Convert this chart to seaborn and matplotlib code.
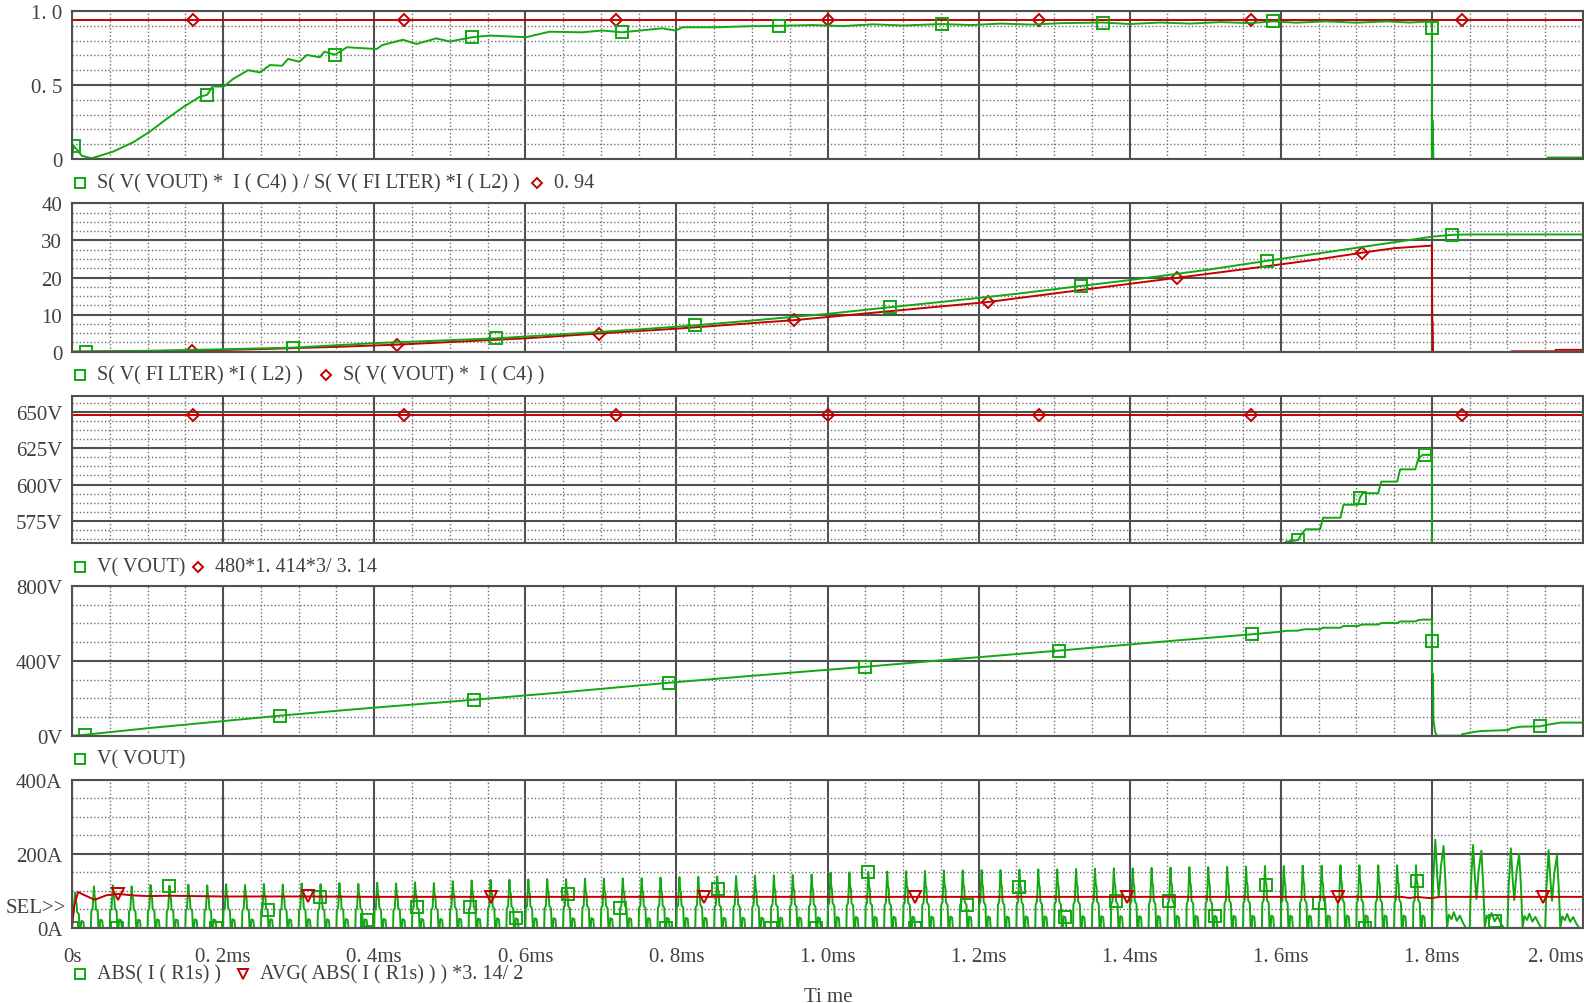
import numpy as np
import matplotlib
matplotlib.use("Agg")
import matplotlib.pyplot as plt
from matplotlib.lines import Line2D
from matplotlib.ticker import MultipleLocator, FixedLocator
import seaborn as sns

# ------------------------------
# Data (time in ms)
# ------------------------------
# panel 1: S(V(VOUT)*I(C4))/S(V(FILTER)*I(L2))
EFF_T = [0.000, 0.002, 0.013, 0.026, 0.037, 0.054, 0.081, 0.103, 0.125, 0.147,
         0.169, 0.179, 0.186, 0.201, 0.213, 0.233, 0.249, 0.262, 0.278, 0.286,
         0.301, 0.311, 0.328, 0.334, 0.348, 0.364, 0.403, 0.411, 0.438, 0.456,
         0.482, 0.500, 0.530, 0.553, 0.601, 0.632, 0.675, 0.702, 0.728, 0.781,
         0.799, 0.808, 0.853, 0.896, 0.936, 0.98, 1.02, 1.06, 1.10, 1.151,
         1.19, 1.23, 1.27, 1.31, 1.365, 1.40, 1.44, 1.48, 1.52, 1.56,
         1.590, 1.62, 1.66, 1.70, 1.74, 1.77, 1.799, 1.800, 1.800, 1.8005,
         1.801, 1.802, 1.803, 1.900, 1.901, 1.952, 1.953, 2.000]
EFF_V = [0.0, 0.091, 0.022, 0.005, 0.022, 0.049, 0.113, 0.185, 0.27, 0.35,
         0.42, 0.434, 0.49, 0.49, 0.54, 0.60, 0.585, 0.635, 0.63, 0.676,
         0.657, 0.703, 0.687, 0.725, 0.705, 0.755, 0.743, 0.77, 0.806, 0.777,
         0.815, 0.794, 0.823, 0.834, 0.823, 0.86, 0.856, 0.868, 0.856, 0.883,
         0.868, 0.89, 0.89, 0.897, 0.90, 0.905, 0.898, 0.91, 0.902, 0.912,
         0.905, 0.915, 0.908, 0.918, 0.922, 0.912, 0.922, 0.915, 0.925, 0.918,
         0.93, 0.921, 0.93, 0.921, 0.93, 0.922, 0.93, 0.883, 0.0, 0.26,
         0.26, 0.0, -0.2, -0.2, 0.0, 0.0, 0.01, 0.01]
EFF_MARKS = [1, 11, 24, 32, 38, 44, 49, 54, 60, 67]

REF_T = [0.0, 0.16, 0.44, 0.72, 1.00, 1.28, 1.56, 1.84, 2.0]
EFF_REF = [0.94, 0.94, 0.94, 0.94, 0.94, 0.94, 0.94, 0.94, 0.94]
REF_MARKS = [1, 2, 3, 4, 5, 6, 7]

# panel 2: S(V(FILTER)*I(L2)) and S(V(VOUT)*I(C4))
PIN_T = [0.0, 0.018, 0.1, 0.2, 0.293, 0.4, 0.5, 0.561, 0.65, 0.75, 0.825, 0.9,
         1.0, 1.083, 1.15, 1.25, 1.335, 1.4, 1.5, 1.582, 1.65, 1.7, 1.75, 1.8,
         1.827, 1.85, 2.0]
PIN_V = [0.0, 0.03, 0.25, 0.65, 1.1, 2.3, 3.1, 3.6, 4.7, 6.0, 7.1, 8.4,
         10.2, 12.0, 13.4, 15.6, 17.7, 19.3, 22.0, 24.5, 26.5, 28.0, 29.5, 31.0,
         31.5, 31.6, 31.6]
PIN_MARKS = [1, 4, 7, 10, 13, 16, 19, 24]

POUT_T = [0.0, 0.1, 0.159, 0.25, 0.35, 0.43, 0.5, 0.6, 0.697, 0.8, 0.9, 0.956,
          1.05, 1.15, 1.213, 1.3, 1.4, 1.462, 1.55, 1.65, 1.708, 1.75, 1.8,
          1.8005, 1.801, 1.8015, 1.904, 1.905, 1.963, 1.964, 2.0]
POUT_V = [0.0, 0.15, 0.3, 0.7, 1.3, 1.9, 2.6, 3.6, 4.9, 6.2, 7.7, 8.5,
          10.3, 12.2, 13.4, 15.7, 18.3, 19.9, 22.2, 24.9, 26.7, 27.9, 28.6,
          8.0, 8.0, -1.0, -1.0, 0.1, 0.1, 0.5, 0.5]
POUT_MARKS = [2, 5, 8, 11, 14, 17, 20]

# panels 3 and 4: V(VOUT)
VOUT_T = [0.0, 0.017, 0.1, 0.2, 0.275, 0.4, 0.532, 0.65, 0.79, 0.9, 1.049, 1.15,
          1.307, 1.45, 1.562, 1.600, 1.607, 1.623, 1.627, 1.633, 1.652, 1.656,
          1.679, 1.683, 1.702, 1.705, 1.708, 1.729, 1.733, 1.754, 1.758, 1.778,
          1.782, 1.788, 1.791, 1.800, 1.800, 1.800, 1.8015, 1.802, 1.804, 1.806,
          1.839, 1.840, 1.856, 1.865, 1.901, 1.905, 1.917, 1.943, 1.951, 1.970, 2.000]
VOUT_V = [0, 5, 40, 78, 107, 150, 192, 232, 283, 320, 368, 403,
          455, 505, 542, 556, 560.5, 561.5, 565.5, 569, 569, 577,
          577, 586, 586, 591, 594, 594, 602, 602, 610.5, 610.5,
          618, 620.5, 620.5, 620.5, 505, 330, 330, 88, 25, 0,
          0, 8, 20, 25, 30, 40, 48, 50, 57, 70, 70]
VOUT_MARKS_ZOOM = [17, 25, 34]
VOUT_MARKS = [1, 4, 6, 8, 10, 12, 14, 36, 49]

EXPR_V = [648.4, 648.4, 648.4, 648.4, 648.4, 648.4, 648.4, 648.4, 648.4]

# panel 5: ABS(I(R1s)) - one pulse shape per 25 us switching period up to 1.8 ms
PERIOD = 0.025
PULSE_PHASE = [0.00, 0.02, 0.09, 0.12, 0.16, 0.20, 0.24, 0.27, 0.36, 0.40,
               0.46, 0.50, 0.60, 0.64]
PULSE_SHAPE = [0.00, 0.40, 0.45, 0.70, 1.00, 0.75, 0.70, 0.45, 0.40, 0.00,
               0.00, 0.20, 0.18, 0.00]
PEAKS = [95, 112, 115, 112, 116, 114, 117, 115, 118, 116,
         119, 117, 120, 118, 121, 119, 122, 120, 123, 121,
         126, 128, 130, 130, 131, 132, 132, 133, 133, 134,
         134, 136, 137, 138, 139, 140, 141, 142, 143, 144,
         149, 150, 151, 152, 153, 154, 155, 155, 156, 156,
         157, 158, 158, 159, 160, 161, 161, 162, 163, 164,
         164, 165, 166, 167, 167, 168, 168, 169, 169, 169, 169, 169]
# after 1.8 ms: double pulse every 50 us
POST_PERIOD = 0.05
POST_PHASE = [0.00, 0.03, 0.09, 0.14, 0.18, 0.24, 0.31, 0.36, 0.40, 0.45,
              0.52, 0.58, 0.66, 0.74, 0.82, 0.90]
POST_SHAPE = [0.00, 0.50, 1.00, 0.60, 0.35, 0.70, 0.93, 0.50, 0.00, 0.15,
              0.10, 0.18, 0.08, 0.14, 0.06, 0.00]
POST_PEAKS = [238, 224, 215, 210]

AVG_T = [0.0, 0.003, 0.008, 0.015, 0.03, 0.045, 0.061, 0.08, 0.1, 0.13, 0.2,
         0.312, 0.4, 0.555, 0.7, 0.837, 1.0, 1.116, 1.3, 1.396, 1.55, 1.676,
         1.76, 1.77, 1.78, 1.795, 1.80, 1.81, 1.9, 1.947, 2.0]
AVG_V = [0, 60, 97, 90, 76, 88, 92, 88, 86, 87, 85,
         85, 84, 84, 84, 84, 84, 84, 84, 84, 84, 84,
         84, 81, 84, 81, 81, 84, 84, 84, 84]
AVG_MARKS = [6, 11, 13, 15, 17, 19, 21, 29]

X_TICKS = [0.0, 0.2, 0.4, 0.6, 0.8, 1.0, 1.2, 1.4, 1.6, 1.8, 2.0]
X_LABELS = ["0s", "0. 2ms", "0. 4ms", "0. 6ms", "0. 8ms", "1. 0ms",
            "1. 2ms", "1. 4ms", "1. 6ms", "1. 8ms", "2. 0ms"]

# build the current waveform from the pulse shapes
cur_t, cur_v = [], []
for k, pk in enumerate(PEAKS):
    for ph, sh in zip(PULSE_PHASE, PULSE_SHAPE):
        cur_t.append((k + ph) * PERIOD)
        cur_v.append(pk * sh)
t0 = len(PEAKS) * PERIOD
for k, pk in enumerate(POST_PEAKS):
    for ph, sh in zip(POST_PHASE, POST_SHAPE):
        cur_t.append(t0 + (k + ph) * POST_PERIOD)
        cur_v.append(pk * sh)
cur_t.append(2.0)
cur_v.append(0.0)

# ------------------------------
# Style
# ------------------------------
sns.set_style("white")
plt.rcParams["font.family"] = ["Liberation Serif", "DejaVu Serif"]

GREEN = "#12a812"
RED = "#c40000"
AXC = "#505050"
TXT = "#404040"
FS = 15
LFS = 14.5

W, H = 1584, 1004
fig = plt.figure(figsize=(W / 100, H / 100), dpi=100)


def add_panel(top, bottom):
    return fig.add_axes([72 / W, 1 - bottom / H, (1583 - 72) / W, (bottom - top) / H])


def style(ax, ylim, major, minor, labels, bottom=False):
    ax.set_xlim(0, 2.0)
    ax.set_ylim(*ylim)
    ax.xaxis.set_major_locator(FixedLocator(X_TICKS))
    ax.xaxis.set_minor_locator(MultipleLocator(0.05))
    ax.yaxis.set_major_locator(FixedLocator(major))
    ax.yaxis.set_minor_locator(MultipleLocator(minor))
    ax.set_yticklabels(labels)
    ax.grid(which="major", color=AXC, lw=1.5, ls="-")
    ax.grid(which="minor", color="#707070", lw=1.0, ls=(0, (1, 1.6)))
    ax.set_axisbelow(True)
    for s in ax.spines.values():
        s.set_color(AXC)
        s.set_linewidth(1.5)
    ax.tick_params(axis="y", which="major", length=5, width=1.3, color=AXC,
                   labelsize=FS, labelcolor=TXT, pad=2)
    ax.tick_params(which="minor", length=0)
    if bottom:
        ax.set_xticklabels(X_LABELS)
        ax.tick_params(axis="x", which="major", length=6, width=1.3, color=AXC,
                       labelsize=FS, labelcolor=TXT, pad=8)
        ax.get_xticklabels()[-1].set_ha("right")
    else:
        ax.set_xticklabels([])
        ax.tick_params(axis="x", which="major", length=0)
    ax.set_xlabel("")
    ax.set_ylabel("")


def line(ax, t, v, color, marker, marks, ms):
    sns.lineplot(x=t, y=v, ax=ax, color=color, lw=1.4, estimator=None, sort=False,
                 marker=marker, markevery=marks, ms=ms, mfc="none", mec=color, mew=1.4)


def legend_item(x, y, marker, color, text, ms):
    fig.add_artist(Line2D([x / W], [1 - y / H], transform=fig.transFigure, ls="none",
                          marker=marker, ms=ms, mfc="none", mec=color, mew=1.4))
    fig.text((x + 17) / W, 1 - y / H, text, fontsize=LFS, color=TXT, va="center")


# ------------------------------
# Panel 1
# ------------------------------
ax1 = add_panel(12, 160)
line(ax1, REF_T, EFF_REF, RED, "D", REF_MARKS, 6)
line(ax1, EFF_T, EFF_V, GREEN, "s", EFF_MARKS, 8.5)
style(ax1, (0, 1.0), [0, 0.5, 1.0], 0.1, ["0", "0. 5", "1. 0"])
legend_item(80, 184, "s", GREEN, "S( V( VOUT) *  I ( C4) ) / S( V( FI LTER) *I ( L2) )", 7)
legend_item(537, 184, "D", RED, "0. 94", 5.5)

# ------------------------------
# Panel 2
# ------------------------------
ax2 = add_panel(204.3, 352.7)
line(ax2, POUT_T, POUT_V, RED, "D", POUT_MARKS, 6)
line(ax2, PIN_T, PIN_V, GREEN, "s", PIN_MARKS, 8.5)
style(ax2, (0, 40), [0, 10, 20, 30, 40], 2.5, ["0", "10", "20", "30", "40"])
legend_item(80, 376, "s", GREEN, "S( V( FI LTER) *I ( L2) )", 7)
legend_item(326, 376, "D", RED, "S( V( VOUT) *  I ( C4) )", 5.5)

# ------------------------------
# Panel 3
# ------------------------------
ax3 = add_panel(396.7, 544)
line(ax3, REF_T, EXPR_V, RED, "D", REF_MARKS, 6)
line(ax3, VOUT_T, VOUT_V, GREEN, "s", VOUT_MARKS_ZOOM, 8.5)
style(ax3, (559.5, 661.5), [575, 600, 625, 650], 6.25, ["575V", "600V", "625V", "650V"])
legend_item(80, 568, "s", GREEN, "V( VOUT)", 7)
legend_item(198, 568, "D", RED, "480*1. 414*3/ 3. 14", 5.5)

# ------------------------------
# Panel 4
# ------------------------------
ax4 = add_panel(587, 736.7)
line(ax4, VOUT_T, VOUT_V, GREEN, "s", VOUT_MARKS, 8.5)
style(ax4, (0, 800), [0, 400, 800], 100, ["0V", "400V", "800V"])
legend_item(80, 760, "s", GREEN, "V( VOUT)", 7)

# ------------------------------
# Panel 5
# ------------------------------
ax5 = add_panel(780.7, 929)
line(ax5, cur_t, cur_v, GREEN, "s", 37, 8.5)
line(ax5, AVG_T, AVG_V, RED, "v", AVG_MARKS, 8)
style(ax5, (0, 400), [0, 200, 400], 50, ["0A", "200A", "400A"], bottom=True)
fig.text(66 / W, 1 - 909 / H, "SEL>>", fontsize=FS, color=TXT, ha="right", va="center")
legend_item(80, 975, "s", GREEN, "ABS( I ( R1s) )", 7)
legend_item(243, 975, "v", RED, "AVG( ABS( I ( R1s) ) ) *3. 14/ 2", 7)

fig.text(828 / W, 1 - 988 / H, "Ti me", fontsize=FS, color=TXT, ha="center", va="top")

fig.savefig("out.png", dpi=100)
